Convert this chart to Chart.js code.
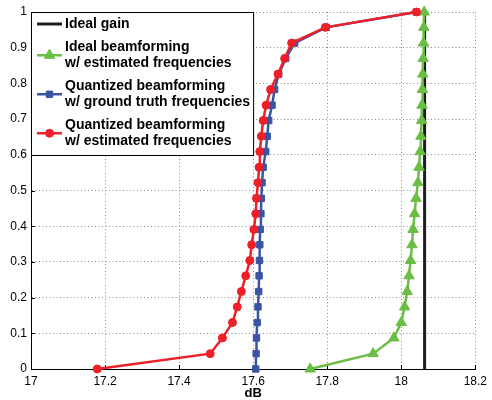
<!DOCTYPE html>
<html lang="en">
<head>
<meta charset="UTF-8">
<title>Beamforming gain CDF</title>
<script src="https://cdn.jsdelivr.net/npm/chart.js"></script>
<style>
    html, body { margin: 0; padding: 0; background: #fff; }
    #wrap { width: 492px; height: 400px; }
</style>
</head>
<body>

<div id="wrap"><canvas id="gainChart" width="492" height="400"></canvas></div>

<script>
    // CDF levels shared by the three measured curves
    const cdfLevels = [0, 0.043, 0.087, 0.130, 0.174, 0.217, 0.261, 0.304, 0.348, 0.391, 0.435, 0.478,
                       0.522, 0.565, 0.609, 0.652, 0.696, 0.739, 0.783, 0.826, 0.870, 0.913, 0.957, 1];

    // gain in dB for each level
    const idealGainX = [18.063, 18.063];
    const idealGainY = [0, 1];
    const idealEstX = [17.754, 17.924, 17.980, 18.000, 18.009, 18.016, 18.021, 18.025, 18.029, 18.032, 18.036, 18.040,
                       18.045, 18.048, 18.051, 18.053, 18.055, 18.056, 18.057, 18.058, 18.059, 18.060, 18.061, 18.062];
    const quantTruthX = [17.607, 17.608, 17.609, 17.611, 17.613, 17.615, 17.616, 17.617, 17.618, 17.619, 17.621, 17.622,
                         17.624, 17.627, 17.634, 17.638, 17.642, 17.651, 17.658, 17.669, 17.688, 17.712, 17.797, 18.041];
    const quantEstX = [17.179, 17.484, 17.517, 17.544, 17.557, 17.568, 17.580, 17.591, 17.596, 17.602, 17.607, 17.609,
                       17.613, 17.616, 17.618, 17.622, 17.627, 17.635, 17.647, 17.667, 17.685, 17.704, 17.795, 18.041];

    const seriesLabels = [
        ['Ideal gain'],
        ['Ideal beamforming', 'w/ estimated frequencies'],
        ['Quantized beamforming', 'w/ ground truth frequencies'],
        ['Quantized beamforming', 'w/ estimated frequencies']
    ];

    const xTicks = [17, 17.2, 17.4, 17.6, 17.8, 18, 18.2];
    const yTicks = [0, 0.1, 0.2, 0.3, 0.4, 0.5, 0.6, 0.7, 0.8, 0.9, 1];

    const toPoints = (xs, ys) => xs.map((x, i) => ({ x: x, y: ys[i] }));

    const FONT = '"Liberation Sans", Arial, Helvetica, sans-serif';

    // boxed legend in the top-left corner of the plot, like the matlab one
    const boxLegend = {
        id: 'boxLegend',
        afterDraw(chart) {
            const ctx = chart.ctx;
            const area = chart.chartArea;
            const left = area.left, top = area.top;
            const lineH = 15.5, gap = 8;
            const sampleX0 = left + 6, sampleX1 = left + 31, textX = left + 34;

            ctx.save();
            ctx.font = 'bold 14px ' + FONT;
            let maxW = 0;
            seriesLabels.forEach(lines => lines.forEach(t => { maxW = Math.max(maxW, ctx.measureText(t).width); }));

            let nLines = 0;
            seriesLabels.forEach(l => nLines += l.length);
            const boxH = 12 + (nLines - 1) * lineH + (seriesLabels.length - 1) * gap + 14;
            const boxW = textX + maxW + 3 - left;

            ctx.fillStyle = '#fff';
            ctx.fillRect(left, top, boxW, boxH);
            ctx.strokeStyle = '#000';
            ctx.lineWidth = 1;
            ctx.strokeRect(left + 0.5, top + 0.5, boxW, boxH);

            let y = top + 12;
            chart.data.datasets.forEach((ds, i) => {
                const lines = seriesLabels[i];
                const midY = y + (lines.length - 1) * lineH / 2;
                ctx.strokeStyle = ds.borderColor;
                ctx.lineWidth = ds.borderWidth;
                ctx.beginPath();
                ctx.moveTo(sampleX0, midY);
                ctx.lineTo(sampleX1, midY);
                ctx.stroke();
                if (ds.pointRadius > 0) {
                    ctx.fillStyle = ds.backgroundColor;
                    ctx.lineWidth = 1;
                    Chart.helpers.drawPoint(ctx, {
                        pointStyle: ds.pointStyle, radius: ds.pointRadius, borderWidth: 1, rotation: 0
                    }, (sampleX0 + sampleX1) / 2, midY);
                }
                ctx.fillStyle = '#000';
                ctx.textBaseline = 'middle';
                ctx.textAlign = 'left';
                lines.forEach((t, k) => ctx.fillText(t, textX, y + k * lineH));
                y += lines.length * lineH + gap;
            });
            ctx.restore();
        }
    };

    // small inward tick marks on the left and bottom axes
    const innerTicks = {
        id: 'innerTicks',
        beforeDatasetsDraw(chart) {
            const ctx = chart.ctx;
            const area = chart.chartArea;
            const xs = chart.scales.x, ys = chart.scales.y;
            ctx.save();
            ctx.strokeStyle = '#000';
            ctx.lineWidth = 1;
            ctx.beginPath();
            xTicks.forEach(v => {
                const px = Math.round(xs.getPixelForValue(v)) + 0.5;
                ctx.moveTo(px, area.bottom);
                ctx.lineTo(px, area.bottom - 4);
            });
            yTicks.forEach(v => {
                const py = Math.round(ys.getPixelForValue(v)) + 0.5;
                ctx.moveTo(area.left, py);
                ctx.lineTo(area.left + 4, py);
            });
            ctx.stroke();
            ctx.restore();
        }
    };

    new Chart(document.getElementById('gainChart'), {
        type: 'scatter',
        data: {
            datasets: [
                {
                    label: 'Ideal gain',
                    data: toPoints(idealGainX, idealGainY),
                    showLine: true,
                    borderColor: '#1e1e1e',
                    backgroundColor: '#1e1e1e',
                    borderWidth: 3,
                    pointRadius: 0,
                    order: 4
                },
                {
                    label: 'Ideal beamforming w/ estimated frequencies',
                    data: toPoints(idealEstX, cdfLevels),
                    showLine: true,
                    borderColor: '#6abd45',
                    backgroundColor: '#6abd45',
                    borderWidth: 2.5,
                    pointStyle: 'triangle',
                    pointRadius: 6,
                    pointBorderWidth: 1,
                    order: 3
                },
                {
                    label: 'Quantized beamforming w/ ground truth frequencies',
                    data: toPoints(quantTruthX, cdfLevels),
                    showLine: true,
                    borderColor: '#3a54a4',
                    backgroundColor: '#3a54a4',
                    borderWidth: 2.5,
                    pointStyle: 'rect',
                    pointRadius: 4.5,
                    pointBorderWidth: 1,
                    order: 2
                },
                {
                    label: 'Quantized beamforming w/ estimated frequencies',
                    data: toPoints(quantEstX, cdfLevels),
                    showLine: true,
                    borderColor: '#ec2028',
                    backgroundColor: '#ec2028',
                    borderWidth: 2.5,
                    pointStyle: 'circle',
                    pointRadius: 4,
                    pointBorderWidth: 1,
                    order: 1
                }
            ]
        },
        options: {
            responsive: false,
            animation: false,
            devicePixelRatio: 1,
            clip: false,
            layout: { padding: { top: 12, right: 14, left: 0, bottom: 0 } },
            plugins: {
                legend: { display: false },
                tooltip: { enabled: false }
            },
            scales: {
                x: {
                    type: 'linear',
                    min: 17,
                    max: 18.2,
                    afterBuildTicks: s => { s.ticks = xTicks.map(v => ({ value: v })); },
                    afterFit: s => { s.height = 31; },
                    ticks: {
                        autoSkip: false,
                        maxRotation: 0,
                        padding: 5,
                        color: '#000',
                        font: { family: FONT, size: 12 },
                        callback: v => String(v)
                    },
                    grid: { color: '#8a8a8a', lineWidth: 1, drawTicks: false },
                    border: { color: '#000', width: 1, dash: [1, 2.5] },
                    title: {
                        display: true,
                        text: 'dB',
                        color: '#000',
                        padding: { top: 0, bottom: -1 },
                        font: { family: FONT, size: 13, weight: 'bold' }
                    }
                },
                y: {
                    type: 'linear',
                    min: 0,
                    max: 1,
                    afterBuildTicks: s => { s.ticks = yTicks.map(v => ({ value: v })); },
                    afterFit: s => { s.width = 31; },
                    ticks: {
                        autoSkip: false,
                        padding: 4,
                        color: '#000',
                        font: { family: FONT, size: 12 },
                        callback: v => String(v)
                    },
                    grid: { color: '#8a8a8a', lineWidth: 1, drawTicks: false },
                    border: { color: '#000', width: 1, dash: [1, 2.5] }
                }
            }
        },
        plugins: [innerTicks, boxLegend]
    });
</script>
</body>
</html>
